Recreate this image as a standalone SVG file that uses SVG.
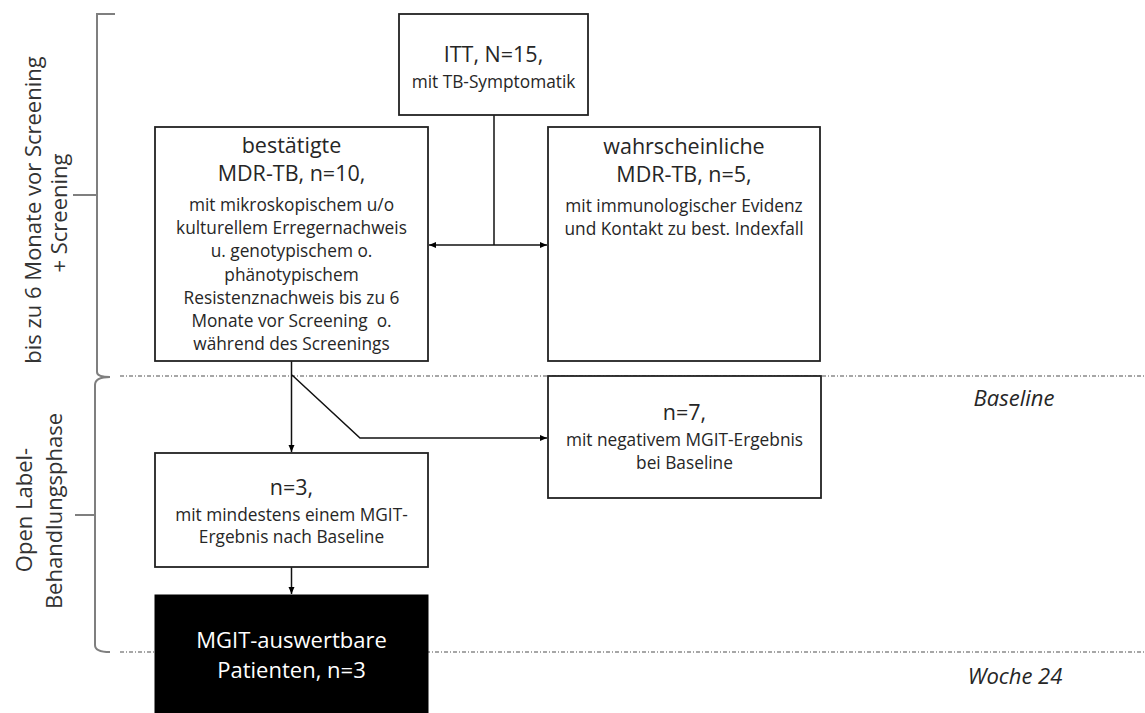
<svg xmlns="http://www.w3.org/2000/svg" width="1145" height="713" viewBox="0 0 1145 713">
<defs>
<marker id="ah" markerWidth="8" markerHeight="8" refX="7" refY="4" orient="auto" markerUnits="userSpaceOnUse">
<path d="M0,1 L7,4 L0,7 Z" fill="#000"/>
</marker>
<style>
text{font-family:"Open Sans","Liberation Sans",sans-serif;fill:#262626;text-anchor:middle}
.big{font-size:21.5px}
.sm{font-size:17.3px}
.side{font-size:22px;fill:#333}
.it{font-size:22px;font-style:italic}
.box{fill:#fff;stroke:#222;stroke-width:1.8}
.blk{fill:#000;stroke:#000}
.wt{fill:#fff;font-size:22px}
.br{fill:none;stroke:#7f7f7f;stroke-width:2}
.dot{stroke:#8a8a8a;stroke-width:1.5;stroke-dasharray:4 2 1 2;fill:none}
.con{fill:none;stroke:#111;stroke-width:1.5}
</style>
</defs>
<rect width="1145" height="713" fill="#fff"/>
<g id="timeline">
<path class="dot" d="M120,376 H1145"/>
<path class="dot" d="M120,652 H1145"/>
<path class="br" d="M115,14 H97 V372 Q97,377 110,377"/>
<path class="br" d="M73,195 H97"/>
<path class="br" d="M110,377 Q95,377 95,385 V645 Q95,652 110,652"/>
<path class="br" d="M75,515 H95"/>
<text class="side" transform="translate(41,210) rotate(-90)">bis zu 6 Monate vor Screening</text>
<text class="side" transform="translate(67,213) rotate(-90)">+ Screening</text>
<text class="side" transform="translate(32,510) rotate(-90)">Open Label-</text>
<text class="side" transform="translate(62,511) rotate(-90)">Behandlungsphase</text>
<text class="it" x="1014" y="406">Baseline</text>
<text class="it" x="1015" y="684">Woche 24</text>
</g>
<g id="connectors">
<path class="con" d="M494,115 V245"/>
<path class="con" d="M494,245 H429" marker-end="url(#ah)"/>
<path class="con" d="M494,245 H547" marker-end="url(#ah)"/>
<path class="con" d="M291.5,361 V452" marker-end="url(#ah)"/>
<path class="con" d="M292,375 L360,438 H547" marker-end="url(#ah)"/>
<path class="con" d="M291.5,567 V594" marker-end="url(#ah)"/>
</g>
<g id="itt">
<rect class="box" x="399" y="14" width="189" height="101"/>
<text class="big" x="493.5" y="62">ITT, N=15,</text>
<text class="sm" x="493.5" y="88">mit TB-Symptomatik</text>
</g>
<g id="confirmed">
<rect class="box" x="155" y="127" width="273" height="234"/>
<text class="big" x="291.5" y="153">bestätigte</text>
<text class="big" x="291.5" y="181">MDR-TB, n=10,</text>
<text class="sm" x="291.5" y="211">mit mikroskopischem u/o</text>
<text class="sm" x="291.5" y="234">kulturellem Erregernachweis</text>
<text class="sm" x="291.5" y="257">u. genotypischem o.</text>
<text class="sm" x="291.5" y="281">phänotypischem</text>
<text class="sm" x="291.5" y="304">Resistenznachweis bis zu 6</text>
<text class="sm" x="291.5" y="327" xml:space="preserve">Monate vor Screening  o.</text>
<text class="sm" x="291.5" y="350">während des Screenings</text>
</g>
<g id="probable">
<rect class="box" x="548" y="127" width="272" height="234"/>
<text class="big" x="684" y="154">wahrscheinliche</text>
<text class="big" x="684" y="182">MDR-TB, n=5,</text>
<text class="sm" x="684" y="212">mit immunologischer Evidenz</text>
<text class="sm" x="684" y="235">und Kontakt zu best. Indexfall</text>
</g>
<g id="negative">
<rect class="box" x="548" y="376" width="273" height="122"/>
<text class="big" x="684.5" y="420">n=7,</text>
<text class="sm" x="684.5" y="446">mit negativem MGIT-Ergebnis</text>
<text class="sm" x="684.5" y="469">bei Baseline</text>
</g>
<g id="postbaseline">
<rect class="box" x="155" y="453" width="273" height="114"/>
<text class="big" x="291.5" y="495">n=3,</text>
<text class="sm" x="291.5" y="521">mit mindestens einem MGIT-</text>
<text class="sm" x="291.5" y="543">Ergebnis nach Baseline</text>
</g>
<g id="evaluable">
<rect class="blk" x="155" y="595" width="273" height="125"/>
<text class="wt" x="291.5" y="648">MGIT-auswertbare</text>
<text class="wt" x="291.5" y="678">Patienten, n=3</text>
</g>
</svg>
